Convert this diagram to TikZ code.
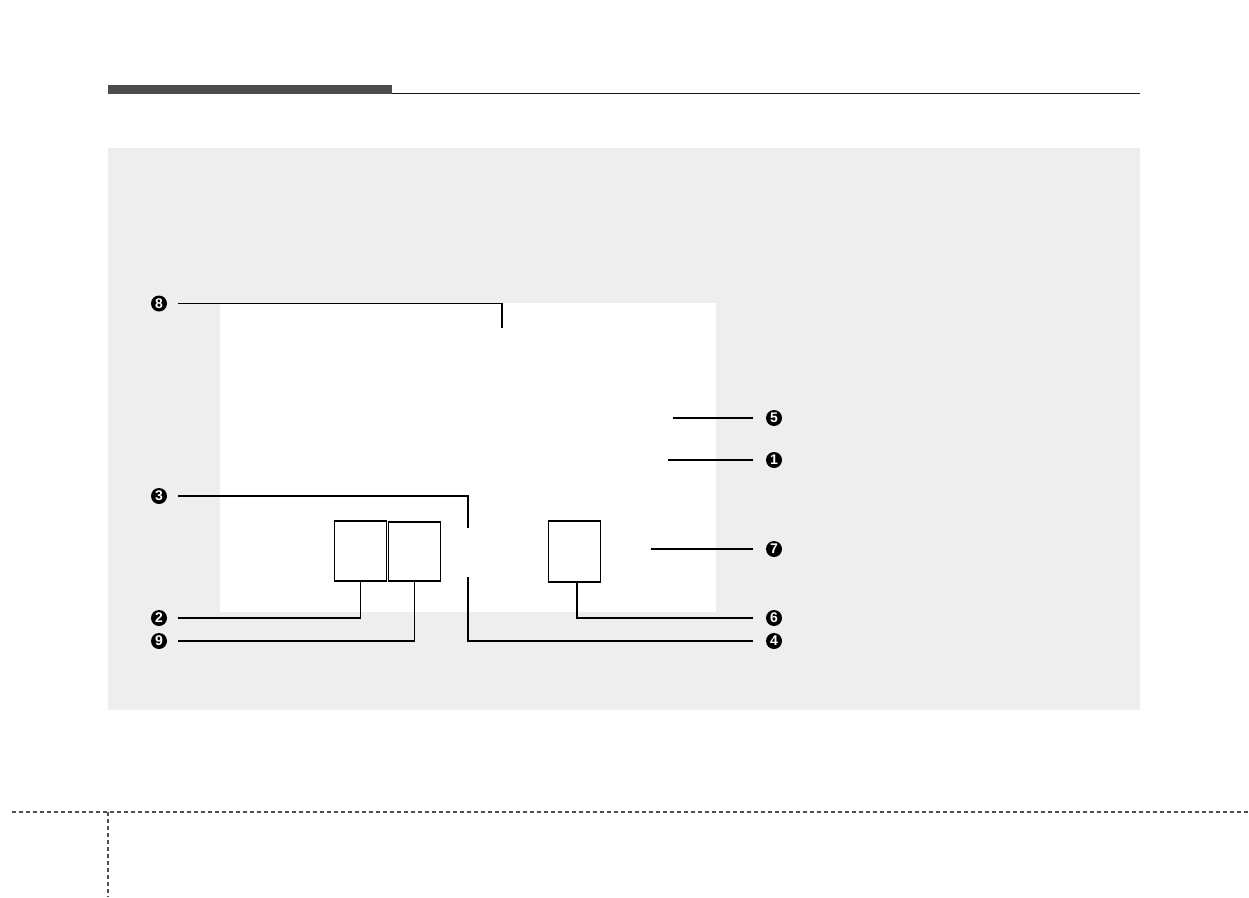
\documentclass[tikz,border=0pt]{standalone}
\usepackage{fontspec}
\setmainfont{Liberation Sans}
\definecolor{headgray}{HTML}{4D4B4C}
\definecolor{panelgray}{HTML}{EEEEEE}
\definecolor{dashgray}{HTML}{505050}
\begin{document}
\begin{tikzpicture}[x=1pt,y=-1pt,
  marker/.style={circle, fill=black, text=white, inner sep=0pt, minimum size=16pt,
    font=\bfseries\fontsize{14}{14}\selectfont},
  lead/.style={line width=1.2pt, draw=black},
  part/.style={draw=black, line width=1.2pt, fill=white, inner sep=0pt},
  footdash/.style={dash pattern=on 4pt off 3pt, line width=1.5pt, draw=dashgray}]
\useasboundingbox (0,0) rectangle (1249,897);
% header
\fill[headgray] (108,85) rectangle (392,94);
\draw[line width=1.2pt, black!90] (392,93.3) -- (1140,93.3);
% panel
\fill[panelgray] (108,148) rectangle (1140,710);
\fill[white] (220,303) rectangle (716,612);
% parts
\node[part, minimum width=52pt, minimum height=60pt] (boxA) at (360.3,551) {};
\node[part, minimum width=52pt, minimum height=59pt] (boxB) at (414.7,551.5) {};
\node[part, minimum width=52pt, minimum height=61pt] (boxC) at (574.5,551.5) {};
% markers
\node[marker] (m8) at (159,303.5) {8};
\node[marker] (m3) at (159,496) {3};
\node[marker] (m2) at (159,618) {2};
\node[marker] (m9) at (159,641) {9};
\node[marker] (m5) at (774,418) {5};
\node[marker] (m1) at (774,460) {1};
\node[marker] (m7) at (774,549) {7};
\node[marker] (m6) at (774,618) {6};
\node[marker] (m4) at (774,641) {4};
% free ends
\coordinate (p8) at (502,328);
\coordinate (p3) at (468,528);
\coordinate (p4) at (468,577);
\coordinate (p5) at (673,418);
\coordinate (p1) at (668,460);
\coordinate (p7) at (651,549);
% leaders
\draw[lead] ([xshift=11pt]m8.east) -| (p8);
\draw[lead] ([xshift=11pt]m3.east) -| (p3);
\draw[lead] (p4) |- ([xshift=-13pt]m4.west);
\draw[lead] (boxA.south) |- ([xshift=11pt]m2.east);
\draw[lead] (boxB.south) |- ([xshift=11pt]m9.east);
\draw[lead] ([xshift=2.5pt]boxC.south) |- ([xshift=-13pt]m6.west);
\draw[lead] (p5) -- ([xshift=-13pt]m5.west);
\draw[lead] (p1) -- ([xshift=-13pt]m1.west);
\draw[lead] (p7) -- ([xshift=-13pt]m7.west);
% footer
\draw[footdash] (12,812) -- (1249,812);
\draw[footdash] (108,812) -- (108,897);
\end{tikzpicture}
\end{document}
